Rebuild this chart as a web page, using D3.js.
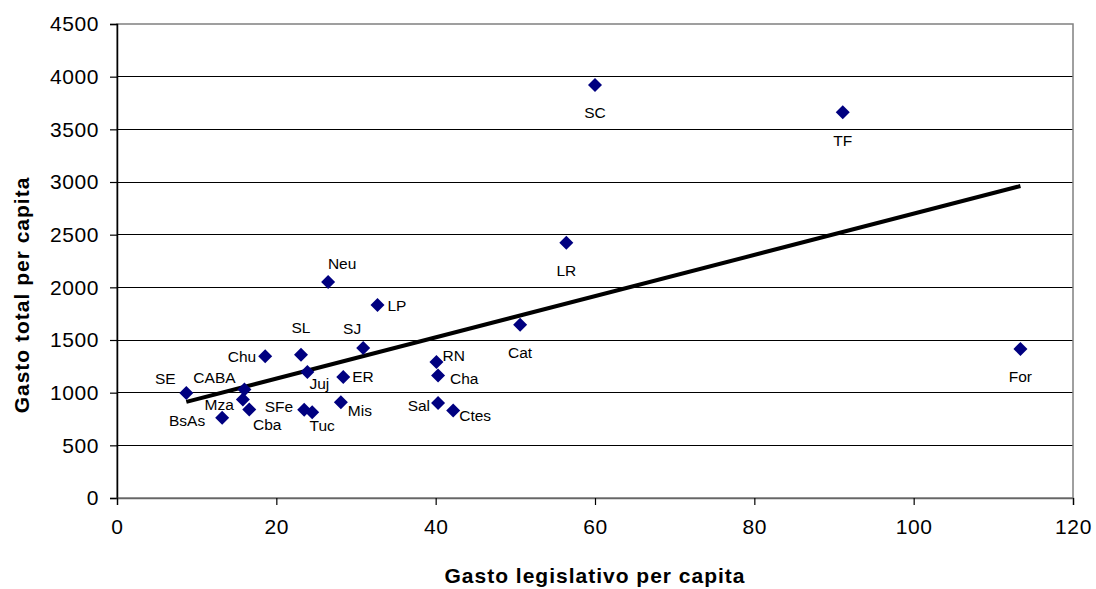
<!DOCTYPE html>
<html>
<head>
<meta charset="utf-8">
<script src="https://cdn.jsdelivr.net/npm/d3@7"></script>
<style>
  html, body { margin: 0; padding: 0; background: #fff; }
  svg { display: block; font-family: "Liberation Sans", Arial, sans-serif; }
</style>
</head>
<body>
<svg id="chart" width="1096" height="589"></svg>
<script>
// Provincial spending per capita: legislative vs. total
const provinces = ["BsAs","SE","CABA","Mza","Cba","Chu","SL","Juj","SFe","Tuc","Neu","Mis","ER","SJ","LP","RN","Cha","Sal","Ctes","Cat","LR","SC","TF","For"];
const gastoLegislativo = [13.2, 8.7, 16.0, 15.8, 16.6, 18.6, 23.1, 23.9, 23.5, 24.5, 26.5, 28.1, 28.4, 30.9, 32.7, 40.1, 40.3, 40.3, 42.2, 50.6, 56.4, 60.0, 91.1, 113.4];
const gastoTotal = [761, 998, 1031, 935, 840, 1345, 1361, 1197, 839, 814, 2050, 909, 1149, 1424, 1832, 1292, 1162, 903, 830, 1645, 2423, 3921, 3663, 1415];
const xTicks = [0, 20, 40, 60, 80, 100, 120];
const yTicks = [0, 500, 1000, 1500, 2000, 2500, 3000, 3500, 4000, 4500];

// Label placement around each marker: [dx, dy, text-anchor]
const labelOffset = {
  BsAs: [-17, 3, "end"], SE: [-21, -14, "middle"], CABA: [-30, -12, "middle"],
  Mza: [-9, 5, "end"], Cba: [18, 15, "middle"], Chu: [-9, 0, "end"],
  SL: [0, -27, "middle"], Juj: [12, 12, "middle"], SFe: [-11, -3, "end"],
  Tuc: [10, 13, "middle"], Neu: [14, -19, "middle"], Mis: [7, 8, "start"],
  ER: [9, 0, "start"], SJ: [-11, -20, "middle"], LP: [10, 0, "start"],
  RN: [6, -6, "start"], Cha: [12, 3, "start"], Sal: [-8, 3, "end"],
  Ctes: [6, 5, "start"], Cat: [0, 28, "middle"], LR: [0, 28, "middle"],
  SC: [0, 28, "middle"], TF: [0, 28, "middle"], For: [0, 28, "middle"]
};

const svg = d3.select("#chart");
const plotLeft = 117, plotRight = 1073, plotTop = 24, plotBottom = 498;

const x = d3.scaleLinear().domain([0, 120]).range([plotLeft, plotRight]);
const y = d3.scaleLinear().domain([0, 4500]).range([plotBottom, plotTop]);

// horizontal gridlines
svg.append("g").selectAll("line")
  .data(yTicks.filter(t => t > 0 && t < 4500))
  .join("line")
  .attr("x1", plotLeft).attr("x2", plotRight)
  .attr("y1", d => y(d)).attr("y2", d => y(d))
  .attr("stroke", "#000").attr("stroke-width", 1).attr("shape-rendering", "crispEdges");

// plot area frame
svg.append("rect")
  .attr("x", plotLeft).attr("y", y(4500))
  .attr("width", plotRight - plotLeft).attr("height", plotBottom - y(4500))
  .attr("fill", "none").attr("stroke", "#808080").attr("stroke-width", 1.5);

// axes
const yAxis = d3.axisLeft(y).tickValues(yTicks).tickFormat(d3.format("d")).tickSize(7).tickPadding(11);
const xAxis = d3.axisBottom(x).tickValues(xTicks).tickFormat(d3.format("d")).tickSize(7).tickPadding(14);

const gy = svg.append("g").attr("transform", `translate(${plotLeft},0)`).call(yAxis);
const gx = svg.append("g").attr("transform", `translate(0,${plotBottom})`).call(xAxis);

[gx, gy].forEach(g => {
  g.select(".domain").attr("stroke", "#000").attr("stroke-width", 1.5);
  g.selectAll(".tick line").attr("stroke", "#000").attr("stroke-width", 1.2);
  g.selectAll(".tick text")
    .attr("font-family", "Liberation Sans, Arial, sans-serif")
    .attr("font-size", 21).attr("letter-spacing", "0.6px").attr("fill", "#000");
});
gx.select(".domain").attr("stroke", "#666");

// linear trend line (least squares)
const n = gastoLegislativo.length;
const mx = d3.mean(gastoLegislativo), my = d3.mean(gastoTotal);
let sxy = 0, sxx = 0;
for (let i = 0; i < n; i++) {
  sxy += (gastoLegislativo[i] - mx) * (gastoTotal[i] - my);
  sxx += (gastoLegislativo[i] - mx) ** 2;
}
const slope = sxy / sxx, intercept = my - slope * mx;
const [xmin, xmax] = d3.extent(gastoLegislativo);
svg.append("line")
  .attr("x1", x(xmin)).attr("y1", y(intercept + slope * xmin))
  .attr("x2", x(xmax)).attr("y2", y(intercept + slope * xmax))
  .attr("stroke", "#000").attr("stroke-width", 4);

// diamond markers
const pts = provinces.map((p, i) => ({ p, vx: gastoLegislativo[i], vy: gastoTotal[i] }));
const diamond = "M0,-7L7,0L0,7L-7,0Z";
svg.append("g").selectAll("path")
  .data(pts)
  .join("path")
  .attr("d", diamond)
  .attr("transform", d => `translate(${x(d.vx)},${y(d.vy)})`)
  .attr("fill", "#000080");

// province labels
svg.append("g").selectAll("text")
  .data(pts)
  .join("text")
  .attr("x", d => x(d.vx) + labelOffset[d.p][0])
  .attr("y", d => y(d.vy) + labelOffset[d.p][1])
  .attr("text-anchor", d => labelOffset[d.p][2])
  .attr("dominant-baseline", "central")
  .attr("font-size", 15.5)
  .attr("fill", "#000")
  .text(d => d.p);

// axis titles
svg.append("text")
  .attr("x", (plotLeft + plotRight) / 2).attr("y", 583)
  .attr("text-anchor", "middle")
  .attr("font-size", 21).attr("font-weight", "bold").attr("letter-spacing", "1px")
  .text("Gasto legislativo per capita");

svg.append("text")
  .attr("transform", "translate(29,295) rotate(-90)")
  .attr("text-anchor", "middle")
  .attr("font-size", 21).attr("font-weight", "bold").attr("letter-spacing", "1px")
  .text("Gasto total per capita");
</script>
</body>
</html>
